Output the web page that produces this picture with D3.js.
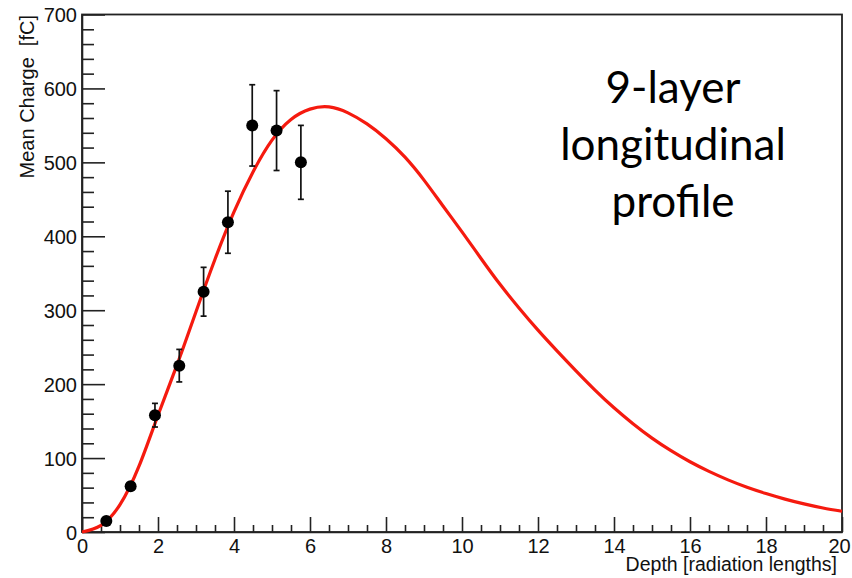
<!DOCTYPE html>
<meta charset="utf-8">
<style>
body { margin: 0; background: #fff; }
svg text { font-family: "Liberation Sans", Arial, sans-serif; fill: #111; }
.note text { font-family: Lato, "Open Sans", sans-serif; }
</style>
<body>
<script src="https://d3js.org/d3.v7.min.js"></script>
<script>

// measured points
let depth = [0.64, 1.28, 1.92, 2.56, 3.2, 3.84, 4.48, 5.12, 5.76];
let charge = [15, 62, 158, 225, 325, 419, 550, 543, 500];
let chargeErr = [4, 5, 16, 22, 33, 42, 55, 54, 50];

// red fit curve, every half radiation length
let fitX = [0, 0.5, 1, 1.5, 2, 2.5, 3, 3.5, 4, 4.5, 5, 5.5, 6, 6.5, 7, 7.5, 8, 8.5, 9, 9.5, 10, 10.5, 11, 11.5, 12, 12.5, 13, 13.5, 14, 14.5, 15, 15.5, 16, 16.5, 17, 17.5, 18, 18.5, 19, 19.5, 20];
let fitY = [0, 9, 37, 89, 158, 226, 298, 369, 433, 487, 530, 558, 572, 575, 567, 552, 532, 507, 476, 441, 406, 370, 335, 303, 273, 245, 218, 192, 168, 146.5, 127, 110, 95, 82, 70.5, 60.5, 52, 44.5, 38, 32.5, 28];

let xMajor = [0, 2, 4, 6, 8, 10, 12, 14, 16, 18, 20];
let yMajor = [0, 100, 200, 300, 400, 500, 600, 700];

let xTitle = 'Depth [radiation lengths]';
let yTitle = 'Mean Charge  [fC]';
let note = ['9-layer', 'longitudinal', 'profile'];

let width = 852;
let height = 578;
let pLeft = 82, pRight = 842, pTop = 14.5, pBottom = 532;

let x = d3.scaleLinear().domain([0, 20]).range([pLeft, pRight]);
let y = d3.scaleLinear().domain([0, 700]).range([pBottom, pTop]);

let svg = d3.select('body').append('svg')
	.attr('width', width)
	.attr('height', height);

// frame
svg.append('rect')
	.attr('x', pLeft).attr('y', pTop)
	.attr('width', pRight - pLeft).attr('height', pBottom - pTop)
	.attr('fill', 'none')
	.attr('stroke', '#222')
	.attr('stroke-width', 1.8);

// x axis, ticks pointing inward
let xMinor = d3.range(0, 20.01, 0.5).filter(v => v % 2 !== 0);
svg.append('g')
	.attr('transform', 'translate(0,' + pBottom + ')')
	.call(d3.axisBottom(x).tickValues(xMinor).tickFormat('').tickSizeInner(-7).tickSizeOuter(0))
	.call(g => g.select('.domain').remove());
let xa = svg.append('g')
	.attr('transform', 'translate(0,' + pBottom + ')')
	.call(d3.axisBottom(x).tickValues(xMajor).tickSizeInner(-15).tickSizeOuter(0).tickPadding(21));
xa.selectAll('text').attr('font-size', 20).attr('dy', 0)
	.attr('dx', d => d === 20 ? -3 : 0);

// y axis
let yMinor = d3.range(0, 700.1, 20).filter(v => v % 100 !== 0);
svg.append('g')
	.attr('transform', 'translate(' + pLeft + ',0)')
	.call(d3.axisLeft(y).tickValues(yMinor).tickFormat('').tickSizeInner(-12).tickSizeOuter(0))
	.call(g => g.select('.domain').remove());
let ya = svg.append('g')
	.attr('transform', 'translate(' + pLeft + ',0)')
	.call(d3.axisLeft(y).tickValues(yMajor).tickSizeInner(-23).tickSizeOuter(0).tickPadding(5));
ya.selectAll('text').attr('font-size', 20).attr('dy', '0.36em');

svg.selectAll('.tick line, .domain').attr('stroke', '#222').attr('stroke-width', 1.6);

// axis titles
svg.append('text')
	.attr('x', 837).attr('y', 571)
	.attr('text-anchor', 'end')
	.attr('font-size', 19.5)
	.text(xTitle);

svg.append('text')
	.attr('transform', 'translate(33.5,15) rotate(-90)')
	.attr('text-anchor', 'end')
	.attr('font-size', 20)
	.style('white-space', 'pre')
	.text(yTitle);

// fit curve
let line = d3.line()
	.x((d, i) => x(fitX[i]))
	.y(d => y(d))
	.curve(d3.curveNatural);

svg.append('path')
	.datum(fitY)
	.attr('d', line)
	.attr('fill', 'none')
	.attr('stroke', '#f51a0f')
	.attr('stroke-width', 3.2);

// error bars + points
let pts = svg.append('g').selectAll('g')
	.data(depth)
	.enter().append('g');

pts.append('line')
	.attr('x1', d => x(d)).attr('x2', d => x(d))
	.attr('y1', (d, i) => y(charge[i] - chargeErr[i]))
	.attr('y2', (d, i) => y(charge[i] + chargeErr[i]))
	.attr('stroke', '#111').attr('stroke-width', 1.7);

[-1, 1].forEach(s => {
	pts.append('line')
		.attr('x1', d => x(d) - 3).attr('x2', d => x(d) + 3)
		.attr('y1', (d, i) => y(charge[i] + s * chargeErr[i]))
		.attr('y2', (d, i) => y(charge[i] + s * chargeErr[i]))
		.attr('stroke', '#111').attr('stroke-width', 1.7);
});

pts.append('circle')
	.attr('cx', d => x(d))
	.attr('cy', (d, i) => y(charge[i]))
	.attr('r', 6)
	.attr('fill', '#000');

// annotation
svg.append('g').attr('class', 'note')
	.selectAll('text')
	.data(note)
	.enter().append('text')
	.attr('x', 673)
	.attr('y', (d, i) => 103 + i * 57)
	.attr('text-anchor', 'middle')
	.attr('font-size', 44)
	.style('fill', '#000')
	.text(d => d);

</script>
</body>
